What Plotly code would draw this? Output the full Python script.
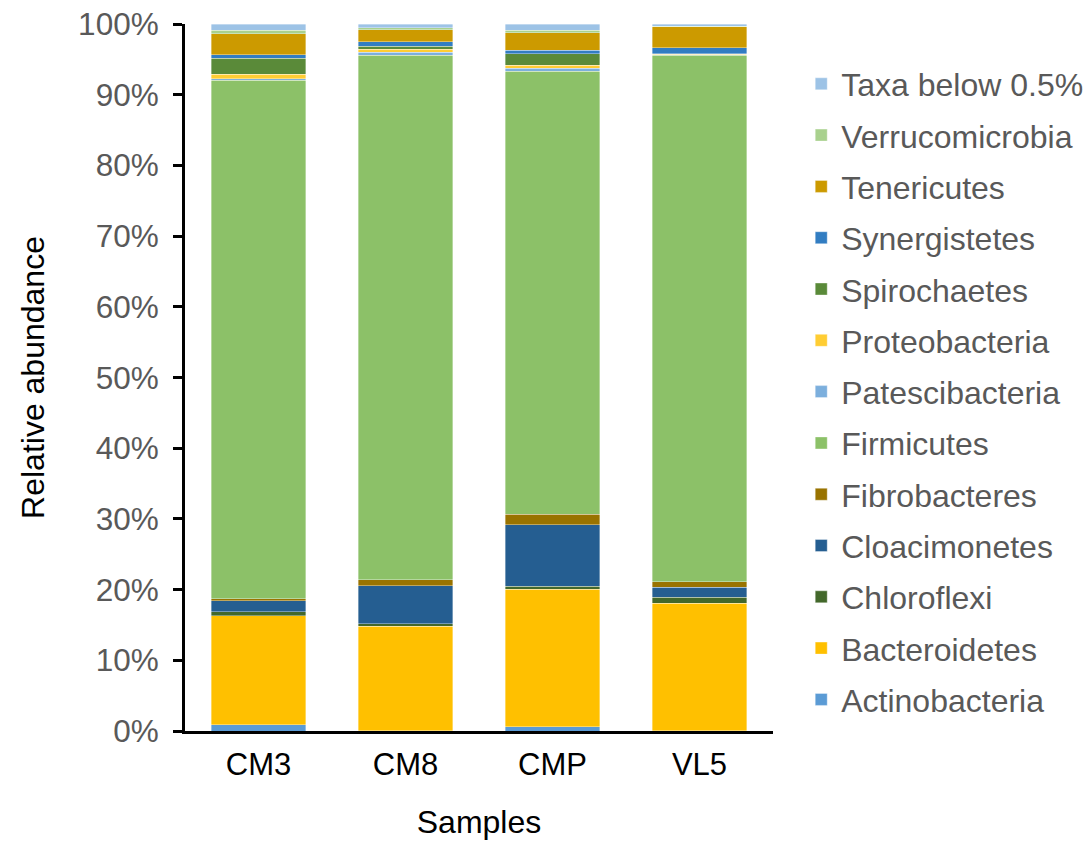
import plotly.graph_objects as go

# Samples on the x axis
samples = ["CM3", "CM8", "CMP", "VL5"]

# Relative abundance (%) of each phylum, bottom to top of the stack
phyla = [
    "Actinobacteria", "Bacteroidetes", "Chloroflexi", "Cloacimonetes",
    "Fibrobacteres", "Firmicutes", "Patescibacteria", "Proteobacteria",
    "Spirochaetes", "Synergistetes", "Tenericutes", "Verrucomicrobia",
    "Taxa below 0.5%",
]
actinobacteria = [0.85, 0.05, 0.60, 0.05]
bacteroidetes = [15.45, 14.80, 19.48, 18.00]
chloroflexi = [0.57, 0.33, 0.42, 0.85]
cloacimonetes = [1.56, 5.37, 8.67, 1.41]
fibrobacteres = [0.30, 0.85, 1.51, 0.80]
firmicutes = [73.30, 74.17, 62.66, 74.50]
patescibacteria = [0.24, 0.47, 0.38, 0.05]
proteobacteria = [0.60, 0.42, 0.47, 0.05]
spirochaetes = [2.26, 0.37, 1.60, 0.05]
synergistetes = [0.52, 0.66, 0.48, 0.90]
tenericutes = [2.97, 1.70, 2.49, 2.97]
verrucomicrobia = [0.52, 0.28, 0.38, 0.08]
taxa_below = [0.86, 0.53, 0.86, 0.29]

series = [
    actinobacteria, bacteroidetes, chloroflexi, cloacimonetes, fibrobacteres,
    firmicutes, patescibacteria, proteobacteria, spirochaetes, synergistetes,
    tenericutes, verrucomicrobia, taxa_below,
]
colors = [
    "#5B9BD5", "#FFC000", "#43682B", "#255E91", "#997300", "#8CC168",
    "#7CAFDD", "#FFCD33", "#5A8A39", "#327DC2", "#CC9A00", "#A9D18E",
    "#9DC3E6",
]

FONT = "Liberation Sans, Arial, sans-serif"
GREY = "#595959"

fig = go.Figure()
n = len(phyla)
for i, (name, vals, col) in enumerate(zip(phyla, series, colors)):
    fig.add_trace(go.Bar(
        x=samples, y=vals, name=name, legendgroup=name,
        legendrank=n - i,  # top of the stack listed first
        marker=dict(color=col, line=dict(color="rgba(255,255,255,0.45)", width=0.8)),
    ))

fig.update_layout(
    barmode="stack",
    bargap=0.355,
    width=1089, height=841,
    margin=dict(l=185, r=316, t=24, b=110, autoexpand=False),
    paper_bgcolor="white", plot_bgcolor="white",
    font=dict(family=FONT, size=31, color=GREY),
    legend=dict(
        x=1.048, y=0.954, xanchor="left", yanchor="top",
        traceorder="grouped", tracegroupgap=6.7,
        font=dict(size=32, color=GREY),
        itemwidth=30,
    ),
    xaxis=dict(
        showline=True, linecolor="black", linewidth=3,
        ticks="", tickfont=dict(size=31, color="black"), ticklabelstandoff=4,
        automargin=False,
        title=dict(text="Samples", font=dict(size=32, color="black"), standoff=30),
    ),
    yaxis=dict(
        range=[0, 100], dtick=10, ticksuffix="%",
        showline=True, linecolor="black", linewidth=3,
        ticks="outside", ticklen=9, tickwidth=3, tickcolor="black",
        showgrid=False, zeroline=False, automargin=False,
        tickfont=dict(size=31.5, color=GREY), ticklabelstandoff=8,
        title=dict(text="Relative abundance", font=dict(size=32, color="black"), standoff=24),
    ),
)

fig.write_html("out.html")
